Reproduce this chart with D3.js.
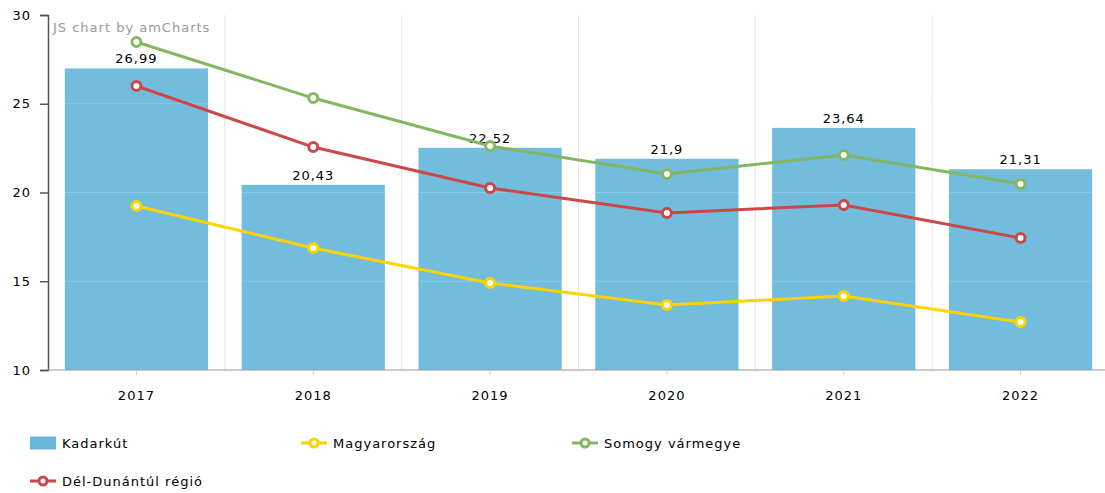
<!DOCTYPE html>
<html>
<head>
<meta charset="utf-8">
<script src="https://cdn.jsdelivr.net/npm/d3@7"></script>
<style>
  body { margin: 0; background: #fff; overflow: hidden; }
  text { font-family: "DejaVu Sans", Verdana, sans-serif; letter-spacing: 1px; }
</style>
</head>
<body>
<svg id="chart"></svg>
<script>
let w = 1105
let h = 493

let years = ['2017', '2018', '2019', '2020', '2021', '2022']
let kadarkut = [26.99, 20.43, 22.52, 21.9, 23.64, 21.31]
let magyarorszag = [19.24, 16.87, 14.9, 13.66, 14.17, 12.7]
let somogy = [28.48, 25.32, 22.62, 21.04, 22.11, 20.48]
let delDunantul = [26.0, 22.56, 20.25, 18.85, 19.3, 17.44]
let yTicks = [10, 15, 20, 25, 30]

let lineSeries = [
  { name: 'Magyarország', values: magyarorszag, color: '#fdd400' },
  { name: 'Somogy vármegye', values: somogy, color: '#84b761' },
  { name: 'Dél-Dunántúl régió', values: delDunantul, color: '#cc4748' }
]
let barColor = '#67b7dc'

let m = { left: 48, right: -4, top: 15, bottom: 123 }

let svg = d3.select('#chart').attr('width', w).attr('height', h)

let x = d3.scaleBand().domain(years).range([m.left, w - m.right]).paddingInner(0.19).paddingOuter(0.095)
let xg = d3.scaleBand().domain(years).range([m.left, w - m.right])
let y = d3.scaleLinear().domain([10, 30]).range([h - m.bottom, m.top])

// vertical grid
svg.append('g').selectAll('line')
  .data(years.slice(1))
  .join('line')
  .attr('x1', d => xg(d)).attr('x2', d => xg(d))
  .attr('y1', y(30)).attr('y2', y(10))
  .attr('stroke', '#e6e6e6')

// bars
svg.append('g').selectAll('rect')
  .data(kadarkut)
  .join('rect')
  .attr('x', (d, i) => x(years[i]))
  .attr('width', x.bandwidth())
  .attr('y', d => y(d))
  .attr('height', d => y(10) - y(d))
  .attr('fill', barColor)
  .attr('opacity', 0.93)

// horizontal grid (only shows over bars)
svg.append('g').selectAll('line')
  .data(yTicks.slice(1, -1))
  .join('line')
  .attr('x1', m.left).attr('x2', w)
  .attr('y1', d => y(d)).attr('y2', d => y(d))
  .attr('stroke', '#fff').attr('stroke-opacity', 0.18)

// bar value labels
svg.append('g').selectAll('text')
  .data(kadarkut)
  .join('text')
  .attr('x', (d, i) => xg(years[i]) + xg.bandwidth() / 2)
  .attr('y', d => y(d) - 5)
  .attr('text-anchor', 'middle')
  .attr('font-size', 13)
  .attr('fill', '#000')
  .text(d => String(d).replace('.', ','))

// lines
let line = d3.line()
  .x((d, i) => xg(years[i]) + xg.bandwidth() / 2)
  .y(d => y(d))

lineSeries.forEach(s => {
  svg.append('path')
    .datum(s.values)
    .attr('d', line)
    .attr('fill', 'none')
    .attr('stroke', s.color)
    .attr('stroke-width', 3)
  svg.append('g').selectAll('circle')
    .data(s.values)
    .join('circle')
    .attr('cx', (d, i) => xg(years[i]) + xg.bandwidth() / 2)
    .attr('cy', d => y(d))
    .attr('r', 4.5)
    .attr('fill', '#fff')
    .attr('stroke', s.color)
    .attr('stroke-width', 3)
})

// y axis
let yAxis = svg.append('g')
  .attr('transform', 'translate(' + m.left + ',0)')
  .call(d3.axisLeft(y).tickValues(yTicks).tickSize(8).tickPadding(9))
yAxis.select('.domain').attr('stroke', '#555').attr('stroke-width', 1.5)
yAxis.selectAll('.tick line').attr('stroke', '#555').attr('stroke-width', 1.5)
yAxis.selectAll('text').attr('font-size', 13).attr('fill', '#000')
  .style('font-family', '"DejaVu Sans", Verdana, sans-serif')

// x axis
let xAxis = svg.append('g')
  .attr('transform', 'translate(0,' + y(10) + ')')
  .call(d3.axisBottom(xg).tickSize(5).tickPadding(16))
xAxis.select('.domain').attr('stroke', '#999').attr('d', 'M' + m.left + ',0H' + w)
xAxis.selectAll('.tick line').attr('stroke', '#ccc')
xAxis.selectAll('text').attr('font-size', 13).attr('fill', '#000')
  .style('font-family', '"DejaVu Sans", Verdana, sans-serif')

// watermark
svg.append('text')
  .attr('x', 53).attr('y', 32)
  .attr('font-size', 13)
  .attr('fill', '#999')
  .text('JS chart by amCharts')

// legend
let legendItems = [
  { name: 'Kadarkút', color: barColor, bar: true },
  lineSeries[0], lineSeries[1], lineSeries[2]
]
let legend = svg.append('g').selectAll('g')
  .data(legendItems)
  .join('g')
  .attr('transform', (d, i) => 'translate(' + (30 + 271 * (i % 3)) + ',' + (443 + 38 * Math.floor(i / 3)) + ')')

legend.each(function (d) {
  let g = d3.select(this)
  if (d.bar) {
    g.append('rect').attr('x', 0).attr('y', -6.5).attr('width', 26).attr('height', 13).attr('fill', d.color)
  } else {
    g.append('line').attr('x1', 0).attr('x2', 26).attr('y1', 0).attr('y2', 0)
      .attr('stroke', d.color).attr('stroke-width', 3)
    g.append('circle').attr('cx', 13).attr('cy', 0).attr('r', 4)
      .attr('fill', '#fff').attr('stroke', d.color).attr('stroke-width', 3)
  }
  g.append('text').attr('x', 32).attr('y', 5).attr('font-size', 13).attr('fill', '#000').text(d.name)
})
</script>
</body>
</html>
